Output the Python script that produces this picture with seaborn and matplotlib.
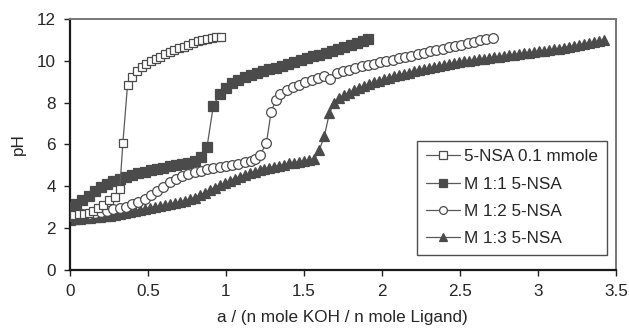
import seaborn as sns
import matplotlib.pyplot as plt

# 5-NSA 0.1 mmole
x_nsa = [0.00, 0.03, 0.06, 0.09, 0.12, 0.15, 0.18, 0.21, 0.25, 0.29, 0.32, 0.34,
         0.37, 0.40, 0.43, 0.46, 0.49, 0.52, 0.55, 0.58, 0.61, 0.64, 0.67, 0.70,
         0.73, 0.76, 0.79, 0.82, 0.85, 0.88, 0.91, 0.94, 0.97]
ph_nsa = [2.60, 2.62, 2.65, 2.68, 2.72, 2.80, 2.95, 3.10, 3.35, 3.50, 3.86, 6.06,
          8.85, 9.25, 9.50, 9.70, 9.85, 9.98, 10.10, 10.20, 10.32, 10.43, 10.52, 10.60,
          10.68, 10.77, 10.85, 10.93, 10.99, 11.04, 11.09, 11.12, 11.16]

# M 1:1 5-NSA
x_m11 = [0.00, 0.04, 0.08, 0.12, 0.16, 0.20, 0.24, 0.28, 0.32, 0.36, 0.40, 0.44,
         0.48, 0.52, 0.56, 0.60, 0.64, 0.68, 0.72, 0.76, 0.80, 0.84, 0.88, 0.92,
         0.96, 1.00, 1.04, 1.08, 1.12, 1.16, 1.20, 1.24, 1.28, 1.32, 1.36, 1.40,
         1.44, 1.48, 1.52, 1.56, 1.60, 1.64, 1.68, 1.72, 1.76, 1.80, 1.84, 1.88, 1.91]
ph_m11 = [3.00, 3.15, 3.33, 3.55, 3.78, 3.95, 4.10, 4.23, 4.35, 4.45, 4.54, 4.62,
          4.69, 4.76, 4.83, 4.89, 4.95, 5.01, 5.07, 5.13, 5.20, 5.38, 5.90, 7.85,
          8.40, 8.72, 8.93, 9.10, 9.22, 9.33, 9.43, 9.51, 9.60, 9.68, 9.77, 9.86,
          9.95, 10.03, 10.12, 10.21, 10.30, 10.39, 10.48, 10.57, 10.66, 10.75, 10.85, 10.95, 11.04]

# M 1:2 5-NSA
x_m12 = [0.00, 0.04, 0.08, 0.12, 0.16, 0.20, 0.24, 0.28, 0.32, 0.36, 0.40, 0.44,
         0.48, 0.52, 0.56, 0.60, 0.64, 0.68, 0.72, 0.76, 0.80, 0.84, 0.88, 0.92,
         0.96, 1.00, 1.04, 1.08, 1.12, 1.16, 1.19, 1.22, 1.26, 1.29, 1.32, 1.35,
         1.39, 1.43, 1.47, 1.51, 1.55, 1.59, 1.63, 1.67, 1.71, 1.75, 1.79, 1.83,
         1.87, 1.91, 1.95, 1.99, 2.03, 2.07, 2.11, 2.15, 2.19, 2.23, 2.27, 2.31,
         2.35, 2.39, 2.43, 2.47, 2.51, 2.55, 2.59, 2.63, 2.67, 2.71]
ph_m12 = [2.60, 2.62, 2.65, 2.69, 2.74, 2.79, 2.84, 2.90, 2.96, 3.03, 3.13, 3.25,
          3.40, 3.58, 3.78, 3.98, 4.18, 4.35, 4.48, 4.59, 4.68, 4.75, 4.81, 4.86,
          4.91, 4.96, 5.02, 5.08, 5.15, 5.22, 5.32, 5.50, 6.06, 7.53, 8.13, 8.40,
          8.60, 8.74, 8.86, 8.97, 9.07, 9.17, 9.27, 9.12, 9.40, 9.50, 9.58, 9.66,
          9.73, 9.80, 9.86, 9.93, 10.00, 10.06, 10.12, 10.18, 10.25, 10.32, 10.39, 10.46,
          10.52, 10.58, 10.64, 10.71, 10.78, 10.85, 10.92, 10.98, 11.03, 11.08]

# M 1:3 5-NSA
x_m13 = [0.000, 0.032, 0.064, 0.096, 0.128, 0.160, 0.192, 0.224, 0.256, 0.288,
         0.320, 0.352, 0.384, 0.416, 0.448, 0.480, 0.512, 0.544, 0.576, 0.608,
         0.640, 0.672, 0.704, 0.736, 0.768, 0.800, 0.832, 0.864, 0.896, 0.928,
         0.960, 0.992, 1.024, 1.056, 1.088, 1.120, 1.152, 1.184, 1.216, 1.248,
         1.280, 1.312, 1.344, 1.376, 1.408, 1.440, 1.472, 1.504, 1.536, 1.568,
         1.600, 1.632, 1.664, 1.696, 1.728, 1.760, 1.792, 1.824, 1.856, 1.888,
         1.920, 1.952, 1.984, 2.016, 2.048, 2.080, 2.112, 2.144, 2.176, 2.208,
         2.240, 2.272, 2.304, 2.336, 2.368, 2.400, 2.432, 2.464, 2.496, 2.528,
         2.560, 2.592, 2.624, 2.656, 2.688, 2.720, 2.752, 2.784, 2.816, 2.848,
         2.880, 2.912, 2.944, 2.976, 3.008, 3.040, 3.072, 3.104, 3.136, 3.168,
         3.200, 3.232, 3.264, 3.296, 3.328, 3.360, 3.392, 3.424]
ph_m13 = [2.40, 2.42, 2.44, 2.46, 2.49, 2.51, 2.54, 2.57, 2.60, 2.64,
          2.68, 2.73, 2.78, 2.83, 2.88, 2.93, 2.97, 3.01, 3.05, 3.09,
          3.13, 3.18, 3.24, 3.30, 3.37, 3.46, 3.57, 3.68, 3.80, 3.93,
          4.05, 4.16, 4.27, 4.37, 4.46, 4.55, 4.63, 4.70, 4.77, 4.83,
          4.89, 4.94, 4.99, 5.04, 5.09, 5.13, 5.17, 5.21, 5.25, 5.30,
          5.75, 6.40, 7.50, 8.00, 8.20, 8.35, 8.48, 8.60, 8.70, 8.80,
          8.89, 8.97, 9.05, 9.12, 9.19, 9.26, 9.32, 9.38, 9.44, 9.50,
          9.55, 9.60, 9.65, 9.70, 9.75, 9.80, 9.85, 9.89, 9.94, 9.97,
          10.00, 10.04, 10.07, 10.10, 10.14, 10.17, 10.20, 10.23, 10.26, 10.30,
          10.33, 10.36, 10.39, 10.42, 10.45, 10.48, 10.52, 10.55, 10.59, 10.63,
          10.67, 10.71, 10.75, 10.79, 10.83, 10.88, 10.93, 11.00]

labels = ["5-NSA 0.1 mmole", "M 1:1 5-NSA", "M 1:2 5-NSA", "M 1:3 5-NSA"]
xticks = [0, 0.5, 1, 1.5, 2, 2.5, 3, 3.5]
yticks = [0, 2, 4, 6, 8, 10, 12]

sns.set_style("ticks")
plt.rcParams["font.family"] = ["Liberation Sans", "DejaVu Sans"]

dark = "#4b4b4b"
line_c = "#5a5a5a"
fs = 12.3

fig = plt.figure(figsize=(6.29, 3.34), dpi=100)
ax = fig.add_axes([0.111, 0.192, 0.868, 0.751])

series = [
    (x_nsa, ph_nsa, "s", "white", 6.4, 5),
    (x_m11, ph_m11, "s", dark, 6.6, 3),
    (x_m12, ph_m12, "o", "white", 7.0, 4),
    (x_m13, ph_m13, "^", dark, 7.2, 2),
]
for (xs, ys, mk, face, ms, z), lab in zip(series, labels):
    sns.lineplot(x=xs, y=ys, ax=ax, sort=False, color=line_c, lw=0.9,
                 marker=mk, markersize=ms, markerfacecolor=face,
                 markeredgecolor=dark, markeredgewidth=0.9,
                 label=lab, zorder=z)

ax.set_xlim(0, 3.5)
ax.set_ylim(0, 12)
ax.set_xticks(xticks)
ax.set_xticklabels(["0", "0.5", "1", "1.5", "2", "2.5", "3", "3.5"])
ax.set_yticks(yticks)
ax.tick_params(labelsize=fs, length=4, width=1, color="#222222", pad=6)
ax.set_xlabel("a / (n mole KOH / n mole Ligand)", fontsize=fs, labelpad=8)
ax.set_ylabel("pH", fontsize=fs, labelpad=8)

for side in ["left", "bottom"]:
    ax.spines[side].set_color("#1a1a1a")
    ax.spines[side].set_linewidth(1.6)
for side in ["top", "right"]:
    ax.spines[side].set_visible(True)
    ax.spines[side].set_color("#777777")
    ax.spines[side].set_linewidth(1.4)

leg = ax.legend(loc="lower right", bbox_to_anchor=(0.983, 0.06), fontsize=fs,
                frameon=True, fancybox=False, edgecolor="#222222",
                handlelength=2.0, labelspacing=0.72, borderpad=0.5,
                handletextpad=0.25, borderaxespad=0, markerscale=0.8)
leg.get_frame().set_linewidth(1.0)

plt.savefig("out.png", dpi=100)
